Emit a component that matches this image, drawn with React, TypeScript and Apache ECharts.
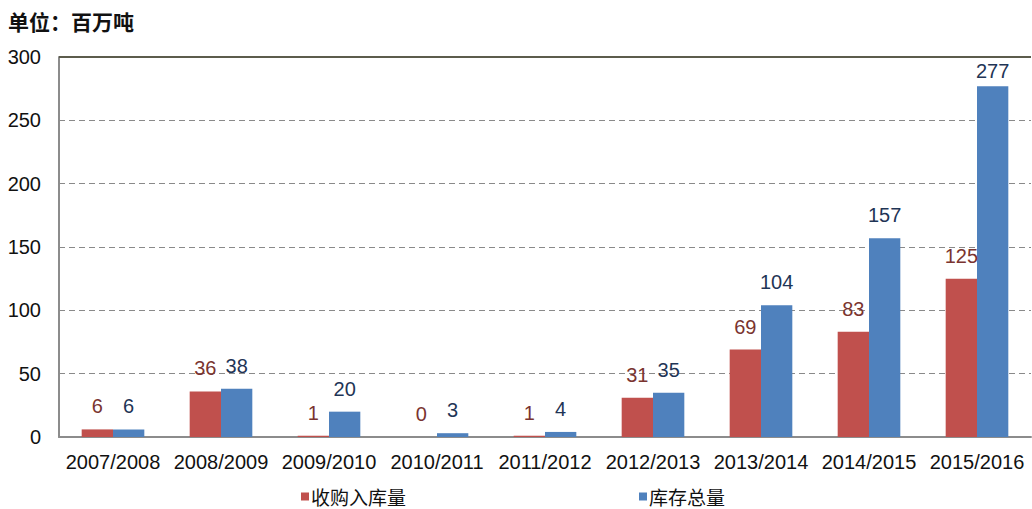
import React, { useEffect, useRef } from "react";
import * as echarts from "echarts";

const categories = ["2007/2008", "2008/2009", "2009/2010", "2010/2011", "2011/2012", "2012/2013", "2013/2014", "2014/2015", "2015/2016"];
const purchaseValues = [6, 36, 1, 0, 1, 31, 69, 83, 125];
const stockValues = [6, 38, 20, 3, 4, 35, 104, 157, 277];
const seriesNames = ["收购入库量", "库存总量"];
const yTicks = { min: 0, max: 300, interval: 50 };
const unitTitle = "单位：百万吨";

export default function App() {
  const ref = useRef<HTMLDivElement>(null);
  useEffect(() => {
    const chart = echarts.init(ref.current!, null, { renderer: "svg" });
    const labelFont = { fontFamily: "Liberation Sans, Arial, sans-serif", fontSize: 20 };
    const mkData = (vals: number[]) =>
      vals.map((v) => (v > yTicks.max * 0.85 ? { value: v, label: { distance: 5 } } : v));
    const legendText = { fontFamily: "Noto Sans CJK SC", fontSize: 19, color: "#111", padding: [0, 0, 0, -3] };
    chart.setOption({
      animation: false,
      title: {
        text: unitTitle,
        left: 3,
        top: 5,
        textStyle: { fontFamily: "Noto Sans CJK SC", fontWeight: "bold", fontSize: 21, color: "#111" },
      },
      legend: [
        {
          data: [seriesNames[0]],
          left: 296,
          top: 482,
          itemWidth: 8,
          itemHeight: 8,
          icon: "rect",
          textStyle: legendText,
        },
        {
          data: [seriesNames[1]],
          left: 634,
          top: 482,
          itemWidth: 8,
          itemHeight: 8,
          icon: "rect",
          textStyle: legendText,
        },
      ],
      grid: { left: 59, right: 1, top: 57, bottom: 72 },
      xAxis: {
        type: "category",
        data: categories,
        axisLine: { lineStyle: { color: "#8c8c8c", width: 2 } },
        axisTick: { show: false },
        axisLabel: { ...labelFont, color: "#111", margin: 15, interval: 0 },
      },
      yAxis: {
        type: "value",
        min: yTicks.min,
        max: yTicks.max,
        interval: yTicks.interval,
        axisLine: { show: true, lineStyle: { color: "#8c8c8c", width: 2 } },
        axisTick: { show: false },
        axisLabel: { ...labelFont, color: "#111", margin: 18 },
        splitLine: { lineStyle: { color: "#8a8a8a", type: [6, 4], width: 1 } },
      },
      series: [
        {
          name: seriesNames[0],
          type: "bar",
          data: mkData(purchaseValues),
          barCategoryGap: "42%",
          barGap: "0%",
          itemStyle: { color: "#c0504d" },
          label: { show: true, position: "top", distance: 13, ...labelFont, color: "#7a3430" },
          markLine: {
            silent: true,
            symbol: "none",
            label: { show: false },
            lineStyle: { color: "#5c5c4c", type: "solid", width: 2 },
            data: [{ yAxis: yTicks.max }],
          },
        },
        {
          name: seriesNames[1],
          type: "bar",
          data: mkData(stockValues),
          barCategoryGap: "42%",
          barGap: "0%",
          itemStyle: { color: "#4f81bd" },
          label: { show: true, position: "top", distance: 13, ...labelFont, color: "#1f3556" },
        },
      ],
    });
    return () => chart.dispose();
  }, []);
  return <div ref={ref} style={{ width: 1032, height: 509, position: "absolute", left: 0, top: 0 }} />;
}
